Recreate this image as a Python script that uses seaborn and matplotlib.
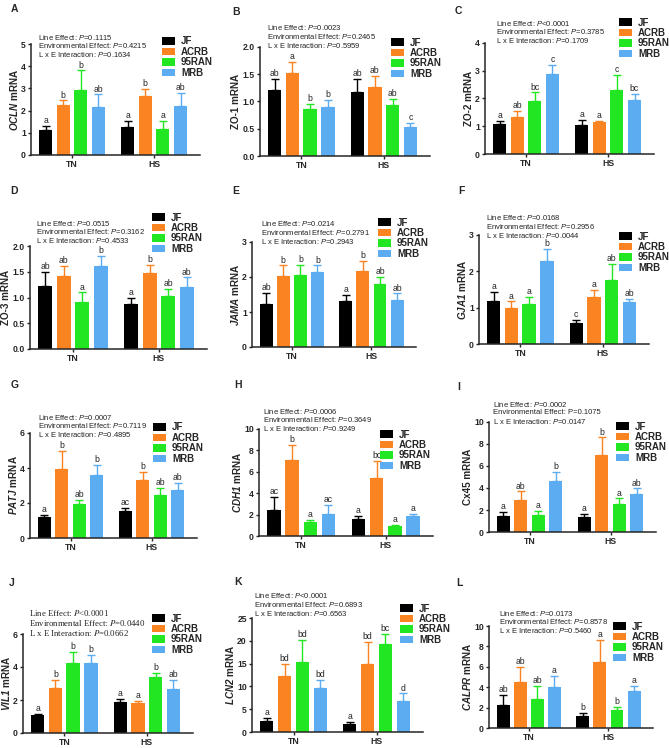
import numpy as np
import pandas as pd
import matplotlib
matplotlib.use('Agg')
import matplotlib.pyplot as plt
import seaborn as sns
from matplotlib.patches import Patch

sns.set_style('ticks')
plt.rcParams['font.family'] = ['Liberation Sans', 'DejaVu Sans']
plt.rcParams['mathtext.fontset'] = 'custom'
plt.rcParams['mathtext.rm'] = 'Liberation Sans'
plt.rcParams['mathtext.it'] = 'Liberation Sans:italic'
plt.rcParams['mathtext.bf'] = 'Liberation Sans:bold'
plt.rcParams['mathtext.bfit'] = 'Liberation Sans:bold:italic'

lines = ['JF', 'ACRB', '95RAN', 'MRB']
envs = ['TN', 'HS']
colors = ['#000000', '#FA8322', '#22E622', '#5CACF2']

# means / SEM per line, TN and HS
A_tn = [1.14, 2.24, 2.93, 2.18]; A_tn_sem = [0.17, 0.22, 0.88, 0.55]
A_hs = [1.26, 2.66, 1.16, 2.21]; A_hs_sem = [0.27, 0.30, 0.37, 0.58]
A_let_tn = ['a', 'b', 'b', 'ab']; A_let_hs = ['a', 'b', 'a', 'ab']

B_tn = [1.21, 1.53, 0.87, 0.90]; B_tn_sem = [0.21, 0.19, 0.08, 0.13]
B_hs = [1.18, 1.26, 0.94, 0.54]; B_hs_sem = [0.24, 0.21, 0.11, 0.06]
B_let_tn = ['ab', 'a', 'b', 'b']; B_let_hs = ['ab', 'ab', 'ab', 'c']

C_tn = [1.07, 1.34, 1.90, 2.87]; C_tn_sem = [0.12, 0.20, 0.32, 0.33]
C_hs = [1.05, 1.14, 2.30, 1.96]; C_hs_sem = [0.17, 0.06, 0.54, 0.20]
C_let_tn = ['a', 'ab', 'bc', 'c']; C_let_hs = ['a', 'a', 'c', 'bc']

D_tn = [1.23, 1.41, 0.92, 1.62]; D_tn_sem = [0.27, 0.21, 0.18, 0.19]
D_hs = [0.88, 1.47, 1.03, 1.21]; D_hs_sem = [0.11, 0.16, 0.13, 0.18]
D_let_tn = ['ab', 'ab', 'a', 'b']; D_let_hs = ['a', 'b', 'ab', 'ab']

E_tn = [1.24, 2.03, 2.07, 2.14]; E_tn_sem = [0.31, 0.30, 0.28, 0.19]
E_hs = [1.32, 2.18, 1.81, 1.33]; E_hs_sem = [0.18, 0.29, 0.19, 0.20]
E_let_tn = ['ab', 'b', 'b', 'b']; E_let_hs = ['a', 'b', 'ab', 'ab']

F_tn = [1.19, 0.99, 1.10, 2.29]; F_tn_sem = [0.24, 0.18, 0.20, 0.33]
F_hs = [0.59, 1.29, 1.76, 1.15]; F_hs_sem = [0.08, 0.20, 0.44, 0.09]
F_let_tn = ['a', 'a', 'a', 'b']; F_let_hs = ['c', 'a', 'ab', 'ab']

G_tn = [1.19, 3.92, 1.93, 3.60]; G_tn_sem = [0.14, 1.06, 0.25, 0.57]
G_hs = [1.55, 3.31, 2.46, 2.75]; G_hs_sem = [0.19, 0.48, 0.38, 0.38]
G_let_tn = ['a', 'b', 'ab', 'b']; G_let_hs = ['ac', 'b', 'ab', 'ab']

H_tn = [2.41, 7.12, 1.32, 2.10]; H_tn_sem = [1.26, 1.38, 0.15, 0.78]
H_hs = [1.57, 5.39, 0.97, 1.91]; H_hs_sem = [0.34, 1.60, 0.06, 0.19]
H_let_tn = ['ac', 'b', 'a', 'ac']; H_let_hs = ['a', 'bc', 'a', 'a']

I_tn = [1.46, 2.90, 1.59, 4.66]; I_tn_sem = [0.37, 0.79, 0.36, 0.77]
I_hs = [1.34, 7.01, 2.56, 3.50]; I_hs_sem = [0.28, 1.59, 0.49, 0.46]
I_let_tn = ['a', 'ab', 'a', 'b']; I_let_hs = ['a', 'b', 'a', 'ab']

J_tn = [1.09, 2.72, 4.25, 4.23]; J_tn_sem = [0.08, 0.50, 0.66, 0.50]
J_hs = [1.85, 1.79, 3.42, 2.66]; J_hs_sem = [0.20, 0.16, 0.20, 0.56]
J_let_tn = ['a', 'b', 'b', 'b']; J_let_hs = ['a', 'a', 'b', 'ab']

K_tn = [2.35, 12.3, 15.4, 9.56]; K_tn_sem = [0.81, 2.55, 4.8, 1.84]
K_hs = [1.84, 15.0, 19.4, 6.70]; K_hs_sem = [0.36, 4.8, 2.1, 1.76]
K_let_tn = ['a', 'bd', 'bd', 'bd']; K_let_hs = ['a', 'bd', 'bc', 'd']

L_tn = [2.23, 4.49, 2.89, 4.00]; L_tn_sem = [0.98, 1.51, 1.21, 1.08]
L_hs = [1.15, 6.46, 1.74, 3.67]; L_hs_sem = [0.33, 2.16, 0.29, 0.49]
L_let_tn = ['ab', 'ab', 'ab', 'a']; L_let_hs = ['b', 'a', 'b', 'a']

ylabels = ['$\\mathbfit{OCLN}$ mRNA', 'ZO-1 mRNA', 'ZO-2 mRNA', 'ZO-3 mRNA',
           '$\\mathbfit{JAMA}$ mRNA', '$\\mathbfit{GJA1}$ mRNA', '$\\mathbfit{PATJ}$ mRNA',
           '$\\mathbfit{CDH1}$ mRNA', 'Cx45 mRNA', '$\\mathbfit{VIL1}$ mRNA',
           '$\\mathbfit{LCN2}$ mRNA', '$\\mathbfit{CALPR}$ mRNA']
line_p = ['=0.1115', '=0.0023', '<0.0001', '=0.0515', '=0.0214', '=0.0168',
          '=0.0007', '=0.0006', '=0.0002', '<0.0001', '<0.0001', '=0.0173']
env_p = ['=0.4215', '=0.2465', '=0.3785', '=0.3162', '=0.2791', '=0.2956',
         '=0.7119', '=0.3649', '=0.1075', '=0.0440', '=0.6893', '=0.8578']
int_p = ['=0.1634', '=0.5959', '=0.1709', '=0.4533', '=0.2943', '=0.0044',
         '=0.4895', '=0.9249', '=0.0147', '=0.0662', '=0.6563', '=0.5460']

panels = [
    ('A', A_tn, A_hs, A_tn_sem, A_hs_sem, A_let_tn, A_let_hs),
    ('B', B_tn, B_hs, B_tn_sem, B_hs_sem, B_let_tn, B_let_hs),
    ('C', C_tn, C_hs, C_tn_sem, C_hs_sem, C_let_tn, C_let_hs),
    ('D', D_tn, D_hs, D_tn_sem, D_hs_sem, D_let_tn, D_let_hs),
    ('E', E_tn, E_hs, E_tn_sem, E_hs_sem, E_let_tn, E_let_hs),
    ('F', F_tn, F_hs, F_tn_sem, F_hs_sem, F_let_tn, F_let_hs),
    ('G', G_tn, G_hs, G_tn_sem, G_hs_sem, G_let_tn, G_let_hs),
    ('H', H_tn, H_hs, H_tn_sem, H_hs_sem, H_let_tn, H_let_hs),
    ('I', I_tn, I_hs, I_tn_sem, I_hs_sem, I_let_tn, I_let_hs),
    ('J', J_tn, J_hs, J_tn_sem, J_hs_sem, J_let_tn, J_let_hs),
    ('K', K_tn, K_hs, K_tn_sem, K_hs_sem, K_let_tn, K_let_hs),
    ('L', L_tn, L_hs, L_tn_sem, L_hs_sem, L_let_tn, L_let_hs),
]

# layout in pixels: axes (left, top, right, bottom), ymax, step,
# panel letter xy, stats text xy (first line), legend xy (JF patch left / center)
W, H = 669, 748
layout = {
    'A': ((31, 44, 200, 155), 5, 1, (14, 9), (38, 37), (162, 42)),
    'B': ((260, 47, 430, 156), 2, 0.5, (236, 12), (267, 28), (391, 43)),
    'C': ((485, 43, 654, 154), 4, 1, (458, 11), (496, 23), (619, 23)),
    'D': ((30, 246, 207, 349), 2, 0.5, (14, 191), (36, 223), (152, 218)),
    'E': ((252, 242, 416, 347), 3, 1, (236, 191), (261, 224), (378, 223)),
    'F': ((479, 235, 649, 344), 3, 1, (461, 191), (486, 218), (619, 237)),
    'G': ((30, 433, 197, 538), 6, 2, (15, 385), (38, 417), (153, 428)),
    'H': ((259, 429, 433, 536), 10, 2, (238, 385), (263, 411), (380, 435)),
    'I': ((489, 422, 656, 532), 10, 2, (459, 387), (493, 404), (616, 427)),
    'J': ((23, 634, 193, 733), 6, 2, (12, 583), (29, 613), (152, 619)),
    'K': ((252, 618, 423, 732), 25, 5, (238, 582), (254, 596), (400, 609)),
    'L': ((489, 626, 653, 728), 10, 2, (459, 583), (499, 613), (613, 627)),
}

fig = plt.figure(figsize=(6.69, 7.48), dpi=100)
handles = [Patch(facecolor=c, edgecolor='none', label=l) for c, l in zip(colors, lines)]

for k, (name, tn, hs, tn_sem, hs_sem, let_tn, let_hs) in enumerate(panels):
    (l, t, r, b), ymax, step, lab_xy, txt_xy, leg_xy = layout[name]
    ax = fig.add_axes([l / W, 1 - b / H, (r - l) / W, (b - t) / H])

    df = pd.DataFrame({
        'env': envs * len(lines),
        'line': np.repeat(lines, 2),
        'value': [v for pair in zip(tn, hs) for v in pair],
    })
    sns.barplot(data=df, x='env', y='value', hue='line', order=envs, hue_order=lines,
                palette=colors, width=0.86, gap=0.25, errorbar=None, legend=False,
                linewidth=0, saturation=1, ax=ax)

    bar_groups = list(ax.containers)[:len(lines)]
    for i, cont in enumerate(bar_groups):
        sems = [tn_sem[i], hs_sem[i]]
        lets = [let_tn[i], let_hs[i]]
        for bar, s, lt in zip(cont, sems, lets):
            x = bar.get_x() + bar.get_width() / 2
            y = bar.get_height()
            ax.errorbar(x, y, yerr=[[0], [s]], fmt='none', ecolor=colors[i],
                        elinewidth=1, capsize=2.6, capthick=1, zorder=1)
            ax.annotate(lt, (x, y + s), xytext=(0, 0.6), textcoords='offset points',
                        ha='center', va='bottom', fontsize=6.2, color='#222222')

    ax.set_ylim(0, ymax)
    ax.set_yticks(np.arange(0, ymax + step / 2, step))
    ax.set_xlim(-0.5, 1.56)
    ax.set_xlabel('')
    ax.set_ylabel(ylabels[k], fontsize=7.1, fontweight='bold', labelpad=1)
    sns.despine(ax=ax)
    for s in ['left', 'bottom']:
        ax.spines[s].set_linewidth(1.1)
    ax.tick_params(axis='both', labelsize=6.2, width=1, length=2.5, pad=1.2)
    for tl in ax.get_xticklabels() + ax.get_yticklabels():
        tl.set_fontweight('bold')

    ax.legend(handles=handles, loc='upper left', bbox_to_anchor=(leg_xy[0] / W, 1 - (leg_xy[1] - 5.5) / H),
              bbox_transform=fig.transFigure, frameon=False, prop={'weight': 'bold', 'size': 7.0},
              handlelength=1.35, handleheight=0.85, handletextpad=0.6, labelspacing=0.05,
              borderpad=0, borderaxespad=0)

    fig.text(lab_xy[0] / W, 1 - lab_xy[1] / H, name, fontsize=7.5, fontweight='bold',
             ha='center', va='center')

    if name == 'J':
        fam, mfam, pitch, fs = 'Liberation Serif', 'stix', 10, 6.3
    else:
        fam, mfam, pitch, fs = 'Liberation Sans', 'custom', 8.7, 5.5
    p_line = 'P' if name == 'I' else '$\\mathit{P}$'
    stats = ['Line Effect: $\\mathit{P}$' + line_p[k],
             'Environmental Effect: ' + p_line + env_p[k],
             'L x E Interaction: $\\mathit{P}$' + int_p[k]]
    for j, s in enumerate(stats):
        fig.text(txt_xy[0] / W, 1 - (txt_xy[1] + j * pitch) / H, s, fontsize=fs,
                 family=fam, math_fontfamily=mfam, ha='left', va='center', color='#222222')

fig.savefig('out.png', dpi=100)
